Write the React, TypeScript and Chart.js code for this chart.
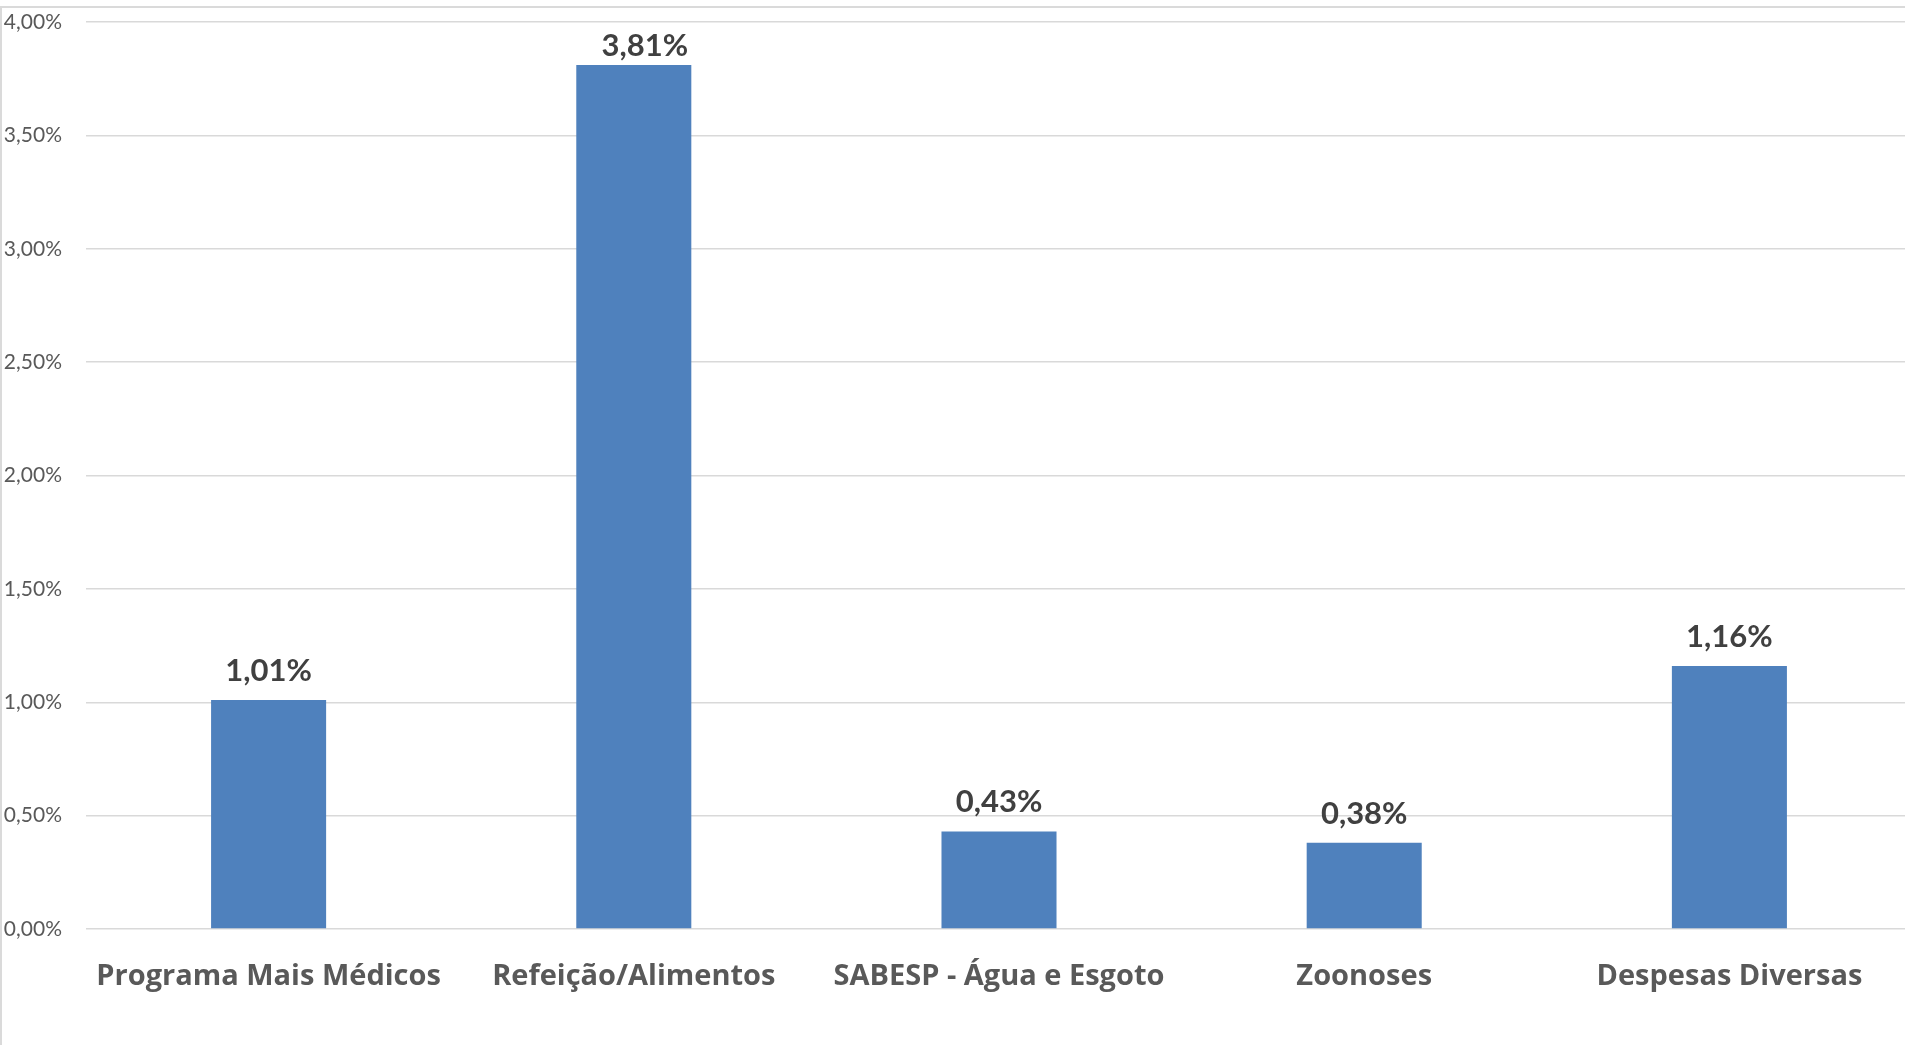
import React, { useEffect, useRef } from "react";
import { Chart, registerables } from "chart.js";

Chart.register(...registerables);

const categories = [
  "Programa Mais Médicos",
  "Refeição/Alimentos",
  "SABESP - Água e Esgoto",
  "Zoonoses",
  "Despesas Diversas",
];
const values = [1.01, 3.81, 0.43, 0.38, 1.16];
const yMin = 0;
const yMax = 4;
const yStep = 0.5;

const fmt = (v: number) => v.toFixed(2).replace(".", ",") + "%";

const dataLabelPlugin = {
  id: "dataLabels",
  afterDatasetsDraw(chart: any) {
    const ctx = chart.ctx;
    const meta = chart.getDatasetMeta(0);
    const top = chart.chartArea.top;
    ctx.save();
    ctx.font = "bold 31px Lato";
    ctx.fillStyle = "#404040";
    ctx.textAlign = "center";
    ctx.textBaseline = "alphabetic";
    meta.data.forEach((bar: any, i: number) => {
      let x = bar.x;
      let y = bar.y - 19;
      // like the spreadsheet: a label that would cross the plot top is nudged
      if (y - 26 < top) {
        x += 11;
        y = bar.y - 9;
      }
      ctx.fillText(fmt(values[i]), x, y);
    });
    ctx.restore();
  },
};

export default function App() {
  const ref = useRef<HTMLCanvasElement | null>(null);
  useEffect(() => {
    if (!ref.current) return;
    const chart = new Chart(ref.current, {
      type: "bar",
      data: {
        labels: categories,
        datasets: [
          {
            data: values,
            backgroundColor: "#4f81bd",
            borderWidth: 0,
            barPercentage: 0.315,
            categoryPercentage: 1,
          },
        ],
      },
      options: {
        animation: false,
        responsive: true,
        maintainAspectRatio: false,
        layout: { padding: { top: 22, left: 0, right: 0, bottom: 0 } },
        plugins: {
          legend: { display: false },
          tooltip: { enabled: false },
        },
        scales: {
          x: {
            grid: { display: false, drawTicks: false },
            border: { display: false },
            ticks: {
              color: "#595959",
              font: { family: "Open Sans", size: 29, weight: "bold" },
              padding: 30,
              maxRotation: 0,
              autoSkip: false,
            },
            afterFit: (s: any) => {
              s.height = 116;
              s.paddingLeft = 0;
              s.paddingRight = 0;
            },
          },
          y: {
            min: yMin,
            max: yMax,
            grid: { color: "#d9d9d9", lineWidth: 1.5, drawTicks: false },
            border: { display: false },
            ticks: {
              stepSize: yStep,
              color: "#595959",
              font: { family: "Lato", size: 21 },
              padding: 24,
              callback: (v: any) => fmt(Number(v)),
            },
            afterFit: (s: any) => {
              s.width = 86;
              s.paddingTop = 0;
              s.paddingBottom = 0;
            },
          },
        },
      },
      plugins: [dataLabelPlugin],
    });
    return () => chart.destroy();
  }, []);

  return (
    <>
      <div
        style={{
          position: "fixed",
          left: 0,
          top: 6,
          width: 1990,
          height: 1100,
          border: "2px solid #dadada",
          background: "#fff",
        }}
      />
      <div
        style={{
          position: "fixed",
          left: 0,
          top: 0,
          width: 1912,
          height: 1045,
        }}
      >
        <canvas ref={ref} />
      </div>
    </>
  );
}
